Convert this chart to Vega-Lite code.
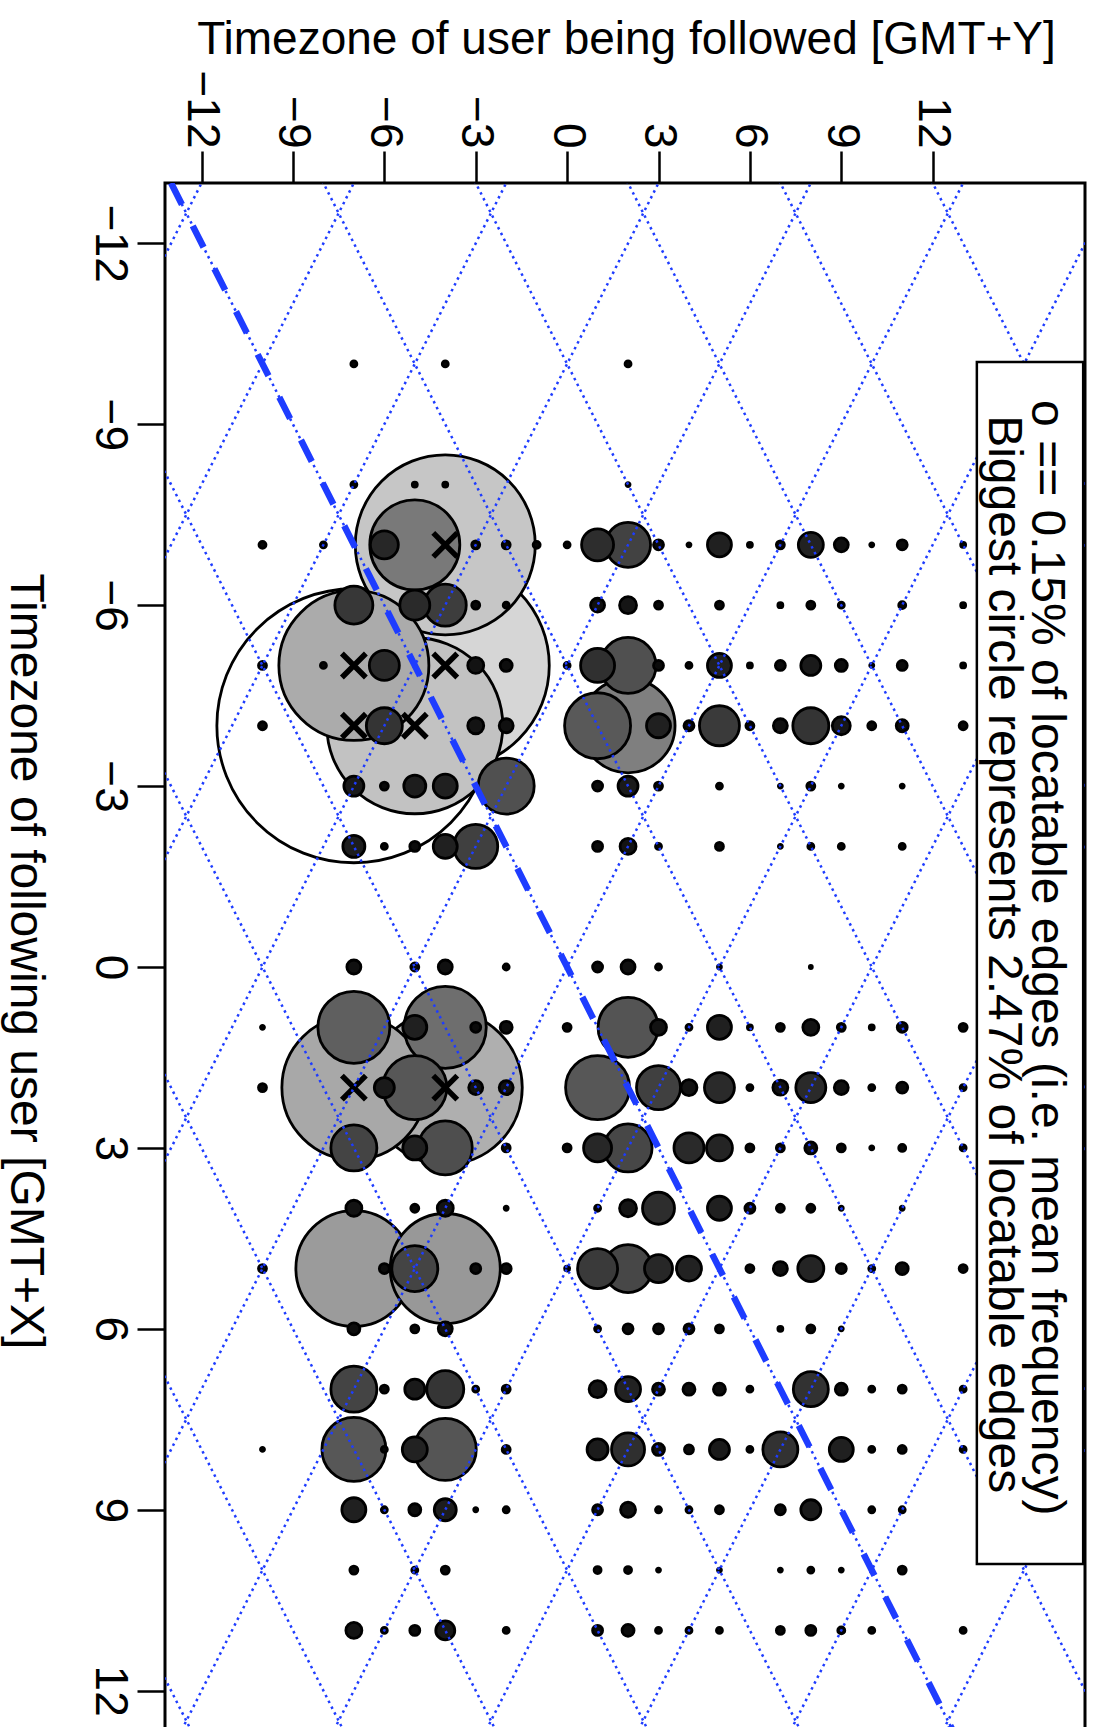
{
  "$schema": "https://vega.github.io/schema/vega-lite/v6.json",
  "width": 920,
  "height": 1568,
  "autosize": {"type": "none"},
  "padding": {"left": 165, "top": 183, "right": 11, "bottom": 0},
  "background": "white",
  "config": {
    "font": "Liberation Sans",
    "view": {"stroke": "black", "strokeWidth": 3},
    "axis": {"domain": false, "grid": false, "tickColor": "black", "tickWidth": 2.5, "labelColor": "black", "titleColor": "black", "labelFontSize": 46, "titleFontSize": 46, "titleFontWeight": "normal", "labelFlush": false, "labelOverlap": false, "labelBound": false, "labelFont": "Liberation Sans", "titleFont": "Liberation Sans"}
  },
  "datasets": {
    "pts": [
      {"X":-4,"Y":-7,"pct":2.466},{"X":-5,"Y":-4,"pct":1.872},{"X":-7,"Y":-4,"pct":1.62},{"X":-4,"Y":-5,"pct":1.584},
      {"X":2,"Y":-4,"pct":1.386},{"X":-5,"Y":-7,"pct":1.35},{"X":2,"Y":-7,"pct":1.296},{"X":5,"Y":-7,"pct":1.044},
      {"X":5,"Y":-4,"pct":0.99},{"X":-4,"Y":2,"pct":0.846},{"X":-7,"Y":-5,"pct":0.81},{"X":1,"Y":-4,"pct":0.738},
      {"X":1,"Y":-7,"pct":0.648},{"X":-4,"Y":1,"pct":0.594},{"X":2,"Y":-5,"pct":0.576},{"X":2,"Y":1,"pct":0.576},
      {"X":8,"Y":-7,"pct":0.576},{"X":8,"Y":-4,"pct":0.558},{"X":1,"Y":2,"pct":0.54},{"X":-5,"Y":2,"pct":0.504},
      {"X":-3,"Y":-2,"pct":0.504},{"X":3,"Y":-4,"pct":0.486},{"X":3,"Y":2,"pct":0.432},{"X":5,"Y":2,"pct":0.432},
      {"X":3,"Y":-7,"pct":0.414},{"X":5,"Y":-5,"pct":0.414},{"X":7,"Y":-7,"pct":0.414},{"X":-7,"Y":2,"pct":0.405},
      {"X":2,"Y":3,"pct":0.396},{"X":-2,"Y":-3,"pct":0.396},{"X":-6,"Y":-4,"pct":0.378},{"X":-4,"Y":5,"pct":0.36},
      {"X":5,"Y":1,"pct":0.36},{"X":-6,"Y":-7,"pct":0.342},{"X":7,"Y":-4,"pct":0.333},{"X":-4,"Y":-6,"pct":0.324},
      {"X":-4,"Y":8,"pct":0.324},{"X":7,"Y":8,"pct":0.315},{"X":8,"Y":7,"pct":0.315},{"X":-5,"Y":1,"pct":0.306},
      {"X":8,"Y":2,"pct":0.297},{"X":-7,"Y":1,"pct":0.288},{"X":4,"Y":3,"pct":0.288},{"X":-6,"Y":-5,"pct":0.27},
      {"X":-5,"Y":-6,"pct":0.27},{"X":2,"Y":5,"pct":0.27},{"X":2,"Y":8,"pct":0.27},{"X":3,"Y":4,"pct":0.27},
      {"X":-7,"Y":-6,"pct":0.252},{"X":3,"Y":1,"pct":0.252},{"X":5,"Y":3,"pct":0.252},{"X":3,"Y":5,"pct":0.234},
      {"X":5,"Y":8,"pct":0.234},{"X":-7,"Y":8,"pct":0.225},{"X":5,"Y":4,"pct":0.225},{"X":7,"Y":2,"pct":0.225},
      {"X":8,"Y":-5,"pct":0.225},{"X":-7,"Y":5,"pct":0.216},{"X":-5,"Y":5,"pct":0.216},{"X":-4,"Y":3,"pct":0.216},
      {"X":-3,"Y":-4,"pct":0.216},{"X":-2,"Y":-4,"pct":0.216},{"X":1,"Y":-5,"pct":0.216},{"X":1,"Y":5,"pct":0.216},
      {"X":3,"Y":-5,"pct":0.216},{"X":4,"Y":5,"pct":0.216},{"X":8,"Y":9,"pct":0.216},{"X":9,"Y":-7,"pct":0.216},
      {"X":-3,"Y":-5,"pct":0.198},{"X":-2,"Y":-7,"pct":0.198},{"X":9,"Y":-4,"pct":0.198},{"X":8,"Y":1,"pct":0.189},
      {"X":-5,"Y":8,"pct":0.18},{"X":-3,"Y":-7,"pct":0.18},{"X":-3,"Y":2,"pct":0.18},{"X":2,"Y":-6,"pct":0.18},
      {"X":7,"Y":-5,"pct":0.18},{"X":8,"Y":5,"pct":0.18},{"X":9,"Y":8,"pct":0.18},{"X":11,"Y":-4,"pct":0.171},
      {"X":-4,"Y":9,"pct":0.162},{"X":-6,"Y":2,"pct":0.153},{"X":4,"Y":2,"pct":0.153},{"X":7,"Y":1,"pct":0.153},
      {"X":-5,"Y":-3,"pct":0.144},{"X":-4,"Y":-3,"pct":0.144},{"X":-2,"Y":2,"pct":0.144},{"X":1,"Y":3,"pct":0.144},
      {"X":1,"Y":8,"pct":0.144},{"X":2,"Y":4,"pct":0.144},{"X":4,"Y":-7,"pct":0.144},{"X":4,"Y":-4,"pct":0.144},
      {"X":11,"Y":-7,"pct":0.144},{"X":2,"Y":7,"pct":0.135},{"X":9,"Y":2,"pct":0.135},
      {"X":-7,"Y":9,"pct":0.126},{"X":-6,"Y":1,"pct":0.126},{"X":-4,"Y":-2,"pct":0.126},{"X":-4,"Y":7,"pct":0.126},
      {"X":0,"Y":-7,"pct":0.126},{"X":0,"Y":-4,"pct":0.126},{"X":0,"Y":2,"pct":0.126},{"X":2,"Y":-3,"pct":0.126},
      {"X":2,"Y":-2,"pct":0.126},{"X":2,"Y":9,"pct":0.126},{"X":5,"Y":7,"pct":0.126},{"X":6,"Y":-4,"pct":0.126},
      {"X":-5,"Y":-2,"pct":0.108},{"X":-5,"Y":9,"pct":0.108},{"X":-4,"Y":11,"pct":0.108},{"X":1,"Y":-2,"pct":0.108},
      {"X":3,"Y":8,"pct":0.108},{"X":5,"Y":11,"pct":0.108},{"X":6,"Y":-7,"pct":0.108},{"X":7,"Y":3,"pct":0.108},
      {"X":7,"Y":4,"pct":0.108},{"X":7,"Y":5,"pct":0.108},{"X":7,"Y":9,"pct":0.108},{"X":8,"Y":3,"pct":0.108},
      {"X":9,"Y":-5,"pct":0.108},{"X":11,"Y":2,"pct":0.108},{"X":2,"Y":11,"pct":0.099},
      {"X":-7,"Y":3,"pct":0.09},{"X":-7,"Y":11,"pct":0.09},{"X":-5,"Y":3,"pct":0.09},{"X":-5,"Y":7,"pct":0.09},
      {"X":-5,"Y":11,"pct":0.09},{"X":-4,"Y":4,"pct":0.09},{"X":-3,"Y":1,"pct":0.09},{"X":-2,"Y":-5,"pct":0.09},
      {"X":-2,"Y":1,"pct":0.09},{"X":0,"Y":1,"pct":0.09},{"X":1,"Y":-3,"pct":0.09},{"X":1,"Y":11,"pct":0.09},
      {"X":4,"Y":6,"pct":0.09},{"X":5,"Y":-6,"pct":0.09},{"X":5,"Y":-3,"pct":0.09},{"X":5,"Y":-2,"pct":0.09},
      {"X":5,"Y":9,"pct":0.09},{"X":6,"Y":2,"pct":0.09},{"X":6,"Y":3,"pct":0.09},{"X":6,"Y":4,"pct":0.09},
      {"X":9,"Y":1,"pct":0.09},{"X":9,"Y":7,"pct":0.09},{"X":11,"Y":-5,"pct":0.09},{"X":11,"Y":1,"pct":0.09},
      {"X":11,"Y":8,"pct":0.09},{"X":8,"Y":4,"pct":0.081},
      {"X":-7,"Y":-3,"pct":0.072},{"X":-7,"Y":-2,"pct":0.072},{"X":-7,"Y":7,"pct":0.072},{"X":-6,"Y":-3,"pct":0.072},
      {"X":-6,"Y":3,"pct":0.072},{"X":-6,"Y":5,"pct":0.072},{"X":-6,"Y":8,"pct":0.072},{"X":-5,"Y":-10,"pct":0.072},
      {"X":-4,"Y":-10,"pct":0.072},{"X":-4,"Y":6,"pct":0.072},{"X":-4,"Y":10,"pct":0.072},{"X":-4,"Y":13,"pct":0.072},
      {"X":-3,"Y":-6,"pct":0.072},{"X":-3,"Y":3,"pct":0.072},{"X":-3,"Y":8,"pct":0.072},{"X":-2,"Y":5,"pct":0.072},
      {"X":0,"Y":-5,"pct":0.072},{"X":1,"Y":0,"pct":0.072},{"X":1,"Y":7,"pct":0.072},{"X":1,"Y":9,"pct":0.072},
      {"X":1,"Y":13,"pct":0.072},{"X":2,"Y":-10,"pct":0.072},{"X":3,"Y":-2,"pct":0.072},{"X":3,"Y":0,"pct":0.072},
      {"X":3,"Y":6,"pct":0.072},{"X":3,"Y":7,"pct":0.072},{"X":3,"Y":9,"pct":0.072},{"X":4,"Y":-5,"pct":0.072},
      {"X":4,"Y":7,"pct":0.072},{"X":4,"Y":8,"pct":0.072},{"X":5,"Y":-10,"pct":0.072},{"X":5,"Y":6,"pct":0.072},
      {"X":5,"Y":13,"pct":0.072},{"X":6,"Y":-5,"pct":0.072},{"X":6,"Y":5,"pct":0.072},{"X":6,"Y":8,"pct":0.072},
      {"X":7,"Y":-6,"pct":0.072},{"X":7,"Y":-2,"pct":0.072},{"X":7,"Y":11,"pct":0.072},{"X":8,"Y":-2,"pct":0.072},
      {"X":8,"Y":11,"pct":0.072},{"X":9,"Y":5,"pct":0.072},{"X":10,"Y":-7,"pct":0.072},{"X":10,"Y":-4,"pct":0.072},
      {"X":10,"Y":11,"pct":0.072},{"X":11,"Y":7,"pct":0.072},
      {"X":-7,"Y":-10,"pct":0.063},{"X":-7,"Y":-1,"pct":0.063},{"X":-6,"Y":11,"pct":0.063},{"X":3,"Y":11,"pct":0.063},
      {"X":10,"Y":1,"pct":0.063},{"X":10,"Y":2,"pct":0.063},{"X":11,"Y":9,"pct":0.063},
      {"X":-10,"Y":-7,"pct":0.054},{"X":-10,"Y":-4,"pct":0.054},{"X":-10,"Y":2,"pct":0.054},{"X":-8,"Y":-7,"pct":0.054},
      {"X":-7,"Y":-8,"pct":0.054},{"X":-7,"Y":0,"pct":0.054},{"X":-6,"Y":-2,"pct":0.054},{"X":-6,"Y":9,"pct":0.054},
      {"X":-5,"Y":-8,"pct":0.054},{"X":-5,"Y":0,"pct":0.054},{"X":-5,"Y":4,"pct":0.054},{"X":-3,"Y":5,"pct":0.054},
      {"X":-2,"Y":-6,"pct":0.054},{"X":-2,"Y":3,"pct":0.054},{"X":-2,"Y":8,"pct":0.054},{"X":-2,"Y":9,"pct":0.054},
      {"X":-2,"Y":11,"pct":0.054},{"X":0,"Y":-2,"pct":0.054},{"X":0,"Y":3,"pct":0.054},{"X":1,"Y":4,"pct":0.054},
      {"X":2,"Y":6,"pct":0.054},{"X":2,"Y":10,"pct":0.054},{"X":2,"Y":13,"pct":0.054},{"X":3,"Y":13,"pct":0.054},
      {"X":4,"Y":1,"pct":0.054},{"X":5,"Y":10,"pct":0.054},{"X":6,"Y":1,"pct":0.054},{"X":7,"Y":-3,"pct":0.054},
      {"X":7,"Y":6,"pct":0.054},{"X":7,"Y":10,"pct":0.054},{"X":7,"Y":13,"pct":0.054},{"X":8,"Y":-6,"pct":0.054},
      {"X":8,"Y":6,"pct":0.054},{"X":8,"Y":10,"pct":0.054},{"X":8,"Y":13,"pct":0.054},{"X":9,"Y":-6,"pct":0.054},
      {"X":9,"Y":-2,"pct":0.054},{"X":9,"Y":3,"pct":0.054},{"X":9,"Y":4,"pct":0.054},{"X":9,"Y":10,"pct":0.054},
      {"X":9,"Y":11,"pct":0.054},{"X":10,"Y":-5,"pct":0.054},{"X":10,"Y":8,"pct":0.054},{"X":11,"Y":-6,"pct":0.054},
      {"X":11,"Y":-2,"pct":0.054},{"X":11,"Y":3,"pct":0.054},{"X":11,"Y":4,"pct":0.054},{"X":11,"Y":5,"pct":0.054},
      {"X":11,"Y":10,"pct":0.054},{"X":11,"Y":13,"pct":0.054},
      {"X":-8,"Y":-5,"pct":0.045},{"X":-8,"Y":-4,"pct":0.045},{"X":-7,"Y":6,"pct":0.045},{"X":-7,"Y":13,"pct":0.045},
      {"X":-6,"Y":7,"pct":0.045},{"X":-6,"Y":13,"pct":0.045},{"X":-5,"Y":6,"pct":0.045},{"X":-5,"Y":13,"pct":0.045},
      {"X":1,"Y":6,"pct":0.045},{"X":1,"Y":10,"pct":0.045},{"X":5,"Y":0,"pct":0.045},{"X":6,"Y":7,"pct":0.045},
      {"X":-8,"Y":2,"pct":0.036},{"X":-7,"Y":4,"pct":0.036},{"X":-7,"Y":10,"pct":0.036},{"X":-5,"Y":10,"pct":0.036},
      {"X":-3,"Y":7,"pct":0.036},{"X":-3,"Y":9,"pct":0.036},{"X":-3,"Y":11,"pct":0.036},{"X":-2,"Y":7,"pct":0.036},
      {"X":0,"Y":5,"pct":0.036},{"X":1,"Y":-10,"pct":0.036},{"X":3,"Y":10,"pct":0.036},{"X":4,"Y":-2,"pct":0.036},
      {"X":4,"Y":9,"pct":0.036},{"X":4,"Y":11,"pct":0.036},{"X":6,"Y":9,"pct":0.036},{"X":8,"Y":-10,"pct":0.036},
      {"X":9,"Y":-3,"pct":0.036},{"X":10,"Y":3,"pct":0.036},{"X":10,"Y":5,"pct":0.036},{"X":10,"Y":7,"pct":0.036},
      {"X":10,"Y":9,"pct":0.036},{"X":0,"Y":8,"pct":0.027}
    ],
    "guides": [
      {"line":"a-25","X":-14,"Y":-39},{"line":"a-25","X":14,"Y":-11},
      {"line":"a-20","X":-14,"Y":-34},{"line":"a-20","X":14,"Y":-6},
      {"line":"a-15","X":-14,"Y":-29},{"line":"a-15","X":14,"Y":-1},
      {"line":"a-10","X":-14,"Y":-24},{"line":"a-10","X":14,"Y":4},
      {"line":"a-5","X":-14,"Y":-19},{"line":"a-5","X":14,"Y":9},
      {"line":"a0","X":-14,"Y":-14},{"line":"a0","X":14,"Y":14},
      {"line":"a5","X":-14,"Y":-9},{"line":"a5","X":14,"Y":19},
      {"line":"a10","X":-14,"Y":-4},{"line":"a10","X":14,"Y":24},
      {"line":"a15","X":-14,"Y":1},{"line":"a15","X":14,"Y":29},
      {"line":"a20","X":-14,"Y":6},{"line":"a20","X":14,"Y":34},
      {"line":"a25","X":-14,"Y":11},{"line":"a25","X":14,"Y":39},
      {"line":"b-25","X":-14,"Y":-11},{"line":"b-25","X":14,"Y":-39},
      {"line":"b-20","X":-14,"Y":-6},{"line":"b-20","X":14,"Y":-34},
      {"line":"b-15","X":-14,"Y":-1},{"line":"b-15","X":14,"Y":-29},
      {"line":"b-10","X":-14,"Y":4},{"line":"b-10","X":14,"Y":-24},
      {"line":"b-5","X":-14,"Y":9},{"line":"b-5","X":14,"Y":-19},
      {"line":"b0","X":-14,"Y":14},{"line":"b0","X":14,"Y":-14},
      {"line":"b5","X":-14,"Y":19},{"line":"b5","X":14,"Y":-9},
      {"line":"b10","X":-14,"Y":24},{"line":"b10","X":14,"Y":-4},
      {"line":"b15","X":-14,"Y":29},{"line":"b15","X":14,"Y":1},
      {"line":"b20","X":-14,"Y":34},{"line":"b20","X":14,"Y":6},
      {"line":"b25","X":-14,"Y":39},{"line":"b25","X":14,"Y":11}
    ],
    "diag": [{"X":-13,"Y":-13},{"X":13,"Y":13}],
    "box": [{"X":-10.03,"X2":9.9,"Y":13.45,"Y2":16.94}],
    "notes": [
      {"label":"o == 0.15% of locatable edges (i.e. mean frequency)","X":-9.4,"Y":15.26},
      {"label":"Biggest circle represents 2.47% of locatable edges","X":-9.15,"Y":13.85}
    ]
  },
  "encoding": {
    "x": {"field": "Y", "type": "quantitative",
      "scale": {"domain": [-13.2, 17], "nice": false, "zero": false},
      "axis": {"orient": "top", "values": [-12,-9,-6,-3,0,3,6,9,12], "tickSize": 32, "labelAngle": 90, "labelAlign": "right", "labelBaseline": "middle", "labelPadding": 3,
        "title": "Timezone of user being followed [GMT+Y]", "titleX": 461, "titleY": -130, "titleAlign": "center", "titleBaseline": "alphabetic", "titleAngle": 0}},
    "y": {"field": "X", "type": "quantitative",
      "scale": {"domain": [-13, 13], "nice": false, "zero": false, "reverse": true},
      "axis": {"orient": "left", "values": [-12,-9,-6,-3,0,3,6,9,12], "tickSize": 28, "labelAngle": 90, "labelAlign": "center", "labelBaseline": "top", "labelPadding": 6,
        "title": "Timezone of following user [GMT+X]", "titleFontSize": 48, "titleX": -155, "titleY": 778, "titleAlign": "center", "titleBaseline": "alphabetic", "titleAngle": 90}}
  },
  "layer": [
    {
      "data": {"name": "pts"},
      "mark": {"type": "circle", "stroke": "black", "strokeWidth": 2.8, "opacity": 1},
      "encoding": {
        "size": {"field": "pct", "type": "quantitative", "scale": {"type": "pow", "exponent": 2, "domain": [0, 2.466], "range": [0, 75076]}, "legend": null},
        "fill": {"field": "pct", "type": "quantitative", "legend": null,
          "scale": {"domain": [0, 0.108, 0.27, 0.45, 0.648, 0.846, 0.972, 1.35, 1.62, 1.872, 2.466],
            "range": ["#000000", "#0d0d0d", "#2a2a2a", "#4a4a4a", "#5f5f5f", "#7f7f7f", "#979797", "#ababab", "#c6c6c6", "#d6d6d6", "#ffffff"], "interpolate": "rgb"}}
      }
    },
    {
      "data": {"name": "pts"},
      "transform": [{"filter": "datum.pct > 1.1"}],
      "mark": {"type": "point", "shape": "M-1,-1L1,1M-1,1L1,-1", "filled": false, "stroke": "black", "strokeWidth": 5.5, "size": 576, "opacity": 1}
    },
    {
      "data": {"name": "guides"},
      "mark": {"type": "line", "clip": true, "color": "#1e3cff", "strokeWidth": 2.5, "strokeDash": [2.5, 4]},
      "encoding": {"detail": {"field": "line", "type": "nominal"}}
    },
    {
      "data": {"name": "diag"},
      "mark": {"type": "line", "clip": true, "color": "#1e3cff", "strokeWidth": 6.5, "strokeDash": [24, 24]},
      "encoding": {}
    },
    {
      "data": {"name": "box"},
      "mark": {"type": "rect", "fill": "white", "stroke": "black", "strokeWidth": 2.5},
      "encoding": {"x2": {"field": "Y2"}, "y2": {"field": "X2"}}
    },
    {
      "data": {"name": "notes"},
      "mark": {"type": "text", "angle": 90, "align": "left", "baseline": "alphabetic", "fontSize": 48, "font": "Liberation Sans", "color": "black"},
      "encoding": {"text": {"field": "label", "type": "nominal"}}
    }
  ]
}
